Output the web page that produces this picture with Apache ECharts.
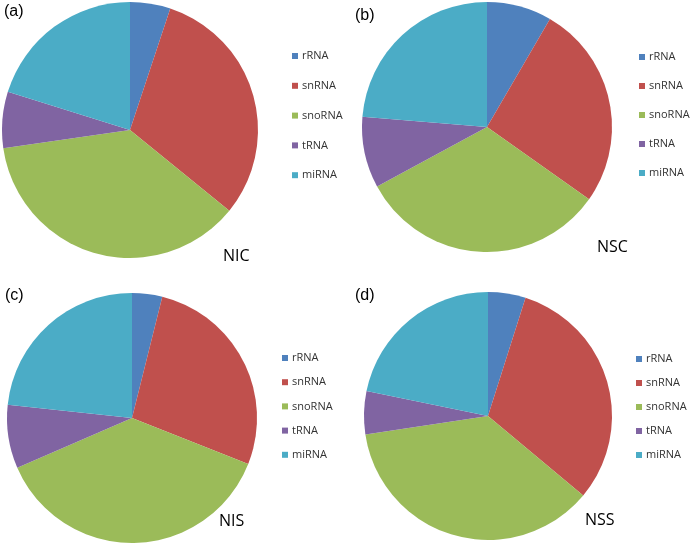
<!DOCTYPE html>
<html>
<head>
<meta charset="utf-8">
<script src="https://cdn.jsdelivr.net/npm/echarts@6/dist/echarts.min.js"></script>
<style>
html,body{margin:0;padding:0;background:#fff;}
#chart{width:699px;height:544px;}
</style>
</head>
<body>
<div id="chart"></div>
<script>
// ---- data ----
const categories = ['rRNA', 'snRNA', 'snoRNA', 'tRNA', 'miRNA'];
const NIC = [5.1, 30.8, 36.9, 7.1, 20.2];
const NSC = [8.4, 26.4, 32.3, 9.2, 23.7];
const NIS = [3.9, 27.1, 37.5, 8.2, 23.3];
const NSS = [4.9, 31.2, 36.6, 5.6, 21.8];
const sampleNames = ['NIC', 'NSC', 'NIS', 'NSS'];
const panelLabels = ['(a)', '(b)', '(c)', '(d)'];

// ---- layout / style ----
const colors = ['#4F81BD', '#C0504D', '#9BBB59', '#8064A2', '#4BACC6'];
const seriesValues = [NIC, NSC, NIS, NSS];
const pieLayout = [
  {center: [130, 130], r: 128},
  {center: [487, 127], r: 125},
  {center: [132, 418], r: 125},
  {center: [488, 416], r: 124}
];
const legendLayout = [
  {left: 292, top: 50, gap: 17.8},
  {left: 639, top: 51, gap: 17},
  {left: 282, top: 352, gap: 12.2},
  {left: 636, top: 353, gap: 12}
];
const sampleLabelPos = [[223, 258], [597, 249], [219, 523], [585, 522]];
const panelLabelPos = [[4, 14], [355, 18], [5, 298], [355, 298]];

const chart = echarts.init(document.getElementById('chart'), null, {renderer: 'canvas'});

const series = seriesValues.map((vals, i) => ({
  type: 'pie',
  name: sampleNames[i],
  center: pieLayout[i].center,
  radius: [0, pieLayout[i].r],
  startAngle: 90,
  clockwise: true,
  silent: true,
  label: {show: false},
  labelLine: {show: false},
  itemStyle: {borderWidth: 0},
  data: categories.map((c, k) => ({name: c, value: vals[k], itemStyle: {color: colors[k]}}))
}));

const legend = legendLayout.map(l => ({
  data: categories,
  orient: 'vertical',
  left: l.left,
  top: l.top,
  padding: 0,
  itemGap: l.gap,
  itemWidth: 6,
  itemHeight: 6,
  icon: 'rect',
  selectedMode: false,
  textStyle: {fontFamily: 'Open Sans', fontSize: 11, color: '#333', lineHeight: 12, padding: [0, 0, 0, -1]}
}));

const graphic = [];
sampleNames.forEach((n, i) => {
  graphic.push({
    type: 'text', left: sampleLabelPos[i][0], top: sampleLabelPos[i][1] - 10,
    style: {text: n, font: '16px "Open Sans"', fill: '#000'}
  });
});
panelLabels.forEach((n, i) => {
  graphic.push({
    type: 'text', left: panelLabelPos[i][0], top: panelLabelPos[i][1] - 10,
    style: {text: n, font: '16px "Liberation Sans"', fill: '#000'}
  });
});

chart.setOption({
  animation: false,
  color: colors,
  legend: legend,
  series: series,
  graphic: graphic
});
</script>
</body>
</html>
